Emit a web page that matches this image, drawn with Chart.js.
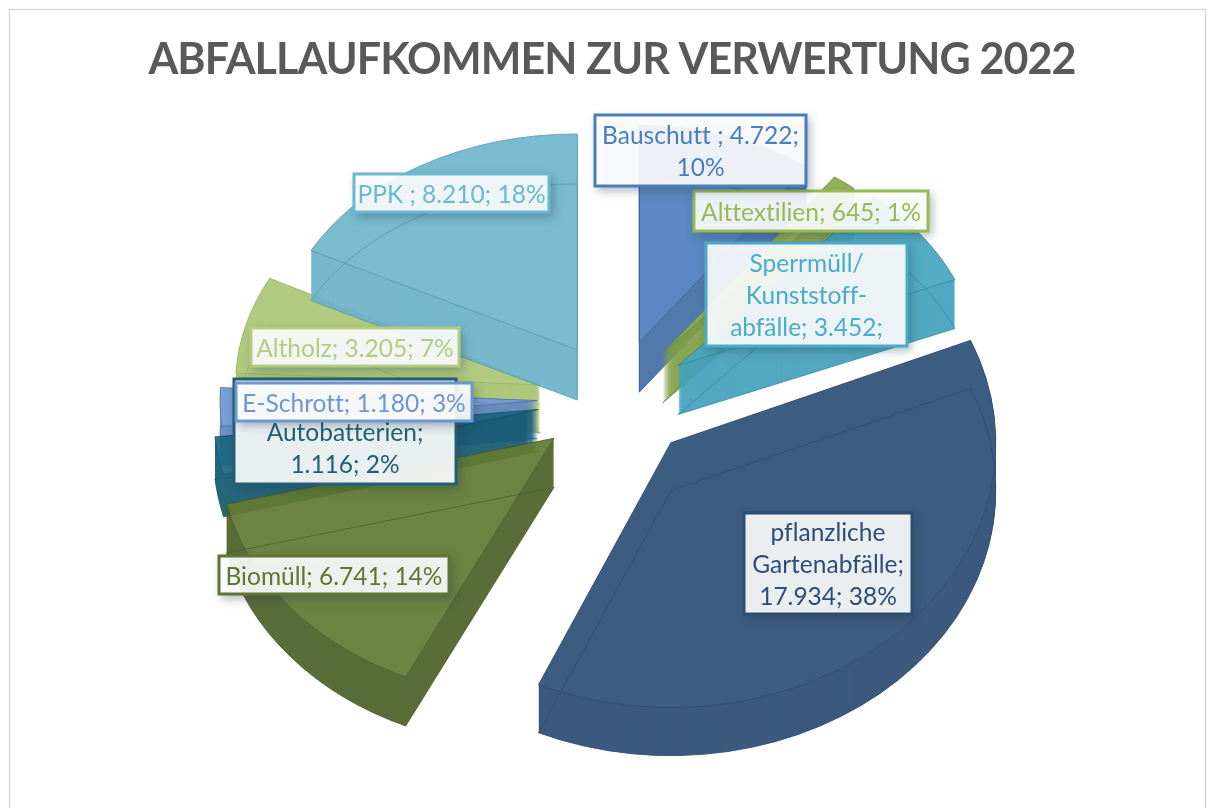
<!DOCTYPE html>
<html><head><meta charset="utf-8">
<style>html,body{margin:0;padding:0;background:#fff}canvas{display:block}</style>
<script src="https://cdn.jsdelivr.net/npm/chart.js@4"></script>
</head><body><canvas id="c" width="1224" height="808"></canvas>
<script>
const chartTitle = 'ABFALLAUFKOMMEN ZUR VERWERTUNG 2022';
const categories = ['Bauschutt','Alttextilien','Sperrmüll/Kunststoffabfälle','pflanzliche Gartenabfälle','Biomüll','Autobatterien','E-Schrott','Altholz','PPK'];
const values = [4722,645,3452,17934,6741,1116,1180,3205,8210];
const labelLines = [
  ['Bauschutt ; 4.722;','10%'],
  ['Alttextilien; 645; 1%'],
  ['Sperrmüll/','Kunststoff-','abfälle; 3.452;'],
  ['pflanzliche','Gartenabfälle;','17.934; 38%'],
  ['Biomüll; 6.741; 14%'],
  ['','Autobatterien;','1.116; 2%'],
  ['E-Schrott; 1.180; 3%'],
  ['Altholz; 3.205; 7%'],
  ['PPK ; 8.210; 18%']
];
const sliceColors = ['#4F80BE','#8BAE4E','#48A6C1','#2F5078','#627A33','#1A6780','#7098D2','#ABC776','#70B6CC'];
const wallColors  = ['#456FA6','#7F9F46','#45A2BD','#2E4D75','#4E6229','#175B72','#6288C2','#A8C472','#6DB3C9'];
const edgeColors  = ['#2F5A90','#6C8C38','#2E859F','#24406A','#445726','#124E62','#4C72AC','#93AF60','#4F97AE'];
const labelColors = ['#4A7EBB','#98B954','#4BACC6','#2C4D75','#5F7530','#215F75','#7096CF','#B4CC82','#69B9D0'];

/* layout of the picture */
const view = {cx:610, cy:393, tilt:0.8, alpha:0.93, font:'24.5px Lato'};
const explode = [72,72,78,87,76,73,73,72,63];
const nudgeX  = [7,8,5,0,2,0,0,0,0];
const nudgeY  = [4,5,9,0,6,6,6,7,0];
const radii   = [285,292,300,325,335,325,317,305,300];
const tilts   = [0.76,0.745,0.74,0.815,0.78,0.8,0.8,0.76,0.72];
const shears  = [0,0,0,0,-0.05,0,0,0,0];
const depth   = [50,50,49,48,49,42,38,48,50];
const drawOrder = [7,8,6,5,4,0,1,2,3];
const boxes = [
  [594,114,213,73],[693,190,236,42],[705,242,203,105],[743,512,170,103],
  [218,555,232,40],[233,378,224,107],[235,382,238,40],[250,327,210,40],[353,173,197,40]
];
const boxDraw = [3,2,1,0,8,7,5,6,4];
const lineStep = 32;

const off = document.createElement('canvas');
off.width = 1224; off.height = 808;

const frame = {id:'frame', beforeDraw(chart){
  const c = chart.ctx; c.save();
  c.fillStyle = '#fff'; c.fillRect(0,0,1224,808);
  c.strokeStyle = '#D9D9D9'; c.lineWidth = 1.5;
  c.strokeRect(9.5,9.5,1196,840);
  c.restore();
  c.letterSpacing = '-0.9px';
}};

function place(c, el, i, d){
  const h = (el.startAngle + el.endAngle)/2;
  c.translate(view.cx + nudgeX[i] + Math.cos(h)*explode[i],
              view.cy + nudgeY[i] + d + Math.sin(h)*explode[i]*view.tilt);
  c.transform(1, 0, shears[i], 1, 0, 0);
  c.scale(1, tilts[i]);
  c.translate(-el.x, -el.y);
}
function drawWith(c, el, i, d, patch){
  const base = el.options;
  el.options = Object.assign(Object.create(base), patch);
  c.save(); place(c, el, i, d); el.draw(c); c.restore();
  el.options = base;
}
const pie3d = {id:'pie3d',
  afterDatasetUpdate(chart, args){
    args.meta.data.forEach((el,i)=>{ el.outerRadius = radii[i]; el.innerRadius = 0; });
  },
  beforeDatasetDraw(chart, args){
    const main = chart.ctx, c = off.getContext('2d');
    drawOrder.forEach(i=>{
      const el = args.meta.data[i];
      c.clearRect(0,0,1224,808);
      for(let d = depth[i]; d > 0; d--){
        drawWith(c, el, i, d, {backgroundColor:wallColors[i], borderWidth:0});
      }
      drawWith(c, el, i, 0, {backgroundColor:sliceColors[i], borderWidth:1, borderColor:edgeColors[i]});
      drawWith(c, el, i, depth[i], {backgroundColor:'rgba(0,0,0,0)', borderWidth:1, borderColor:edgeColors[i]});
      main.save(); main.globalAlpha = view.alpha; main.drawImage(off,0,0); main.restore();
    });
    return false;
  },
  afterDatasetsDraw(chart){
    const c = chart.ctx;
    boxDraw.forEach(i=>{
      const [x,y,w,h] = boxes[i], col = labelColors[i];
      c.save();
      c.shadowColor = 'rgba(40,60,80,0.40)'; c.shadowBlur = 9; c.shadowOffsetX = 3; c.shadowOffsetY = 4;
      c.fillStyle = 'rgba(255,255,255,0.9)';
      c.fillRect(x,y,w,h);
      c.shadowColor = 'transparent';
      c.strokeStyle = col; c.lineWidth = 3;
      c.strokeRect(x+1,y+1,w-2,h-2);
      c.fillStyle = col; c.font = view.font; c.textAlign = 'center'; c.textBaseline = 'middle';
      c.letterSpacing = '0.01px';
      const lines = labelLines[i], top = y + h/2 - (lines.length-1)*lineStep/2;
      lines.forEach((t,k)=>c.fillText(t, x+w/2, top + k*lineStep + 2));
      c.restore();
    });
  }
};

new Chart(document.getElementById('c'),{
  type:'pie',
  data:{labels:categories, datasets:[{
    data:values,
    backgroundColor:sliceColors,
    borderWidth:0
  }]},
  options:{
    responsive:false, animation:false, events:[], devicePixelRatio:1,
    plugins:{
      legend:{display:false}, tooltip:{enabled:false},
      title:{display:true, text:chartTitle, color:'#595959',
        font:{family:'Lato', size:43, weight:'bold'}, padding:{top:34,bottom:20}}
    }
  },
  plugins:[frame, pie3d]
});
</script></body></html>
